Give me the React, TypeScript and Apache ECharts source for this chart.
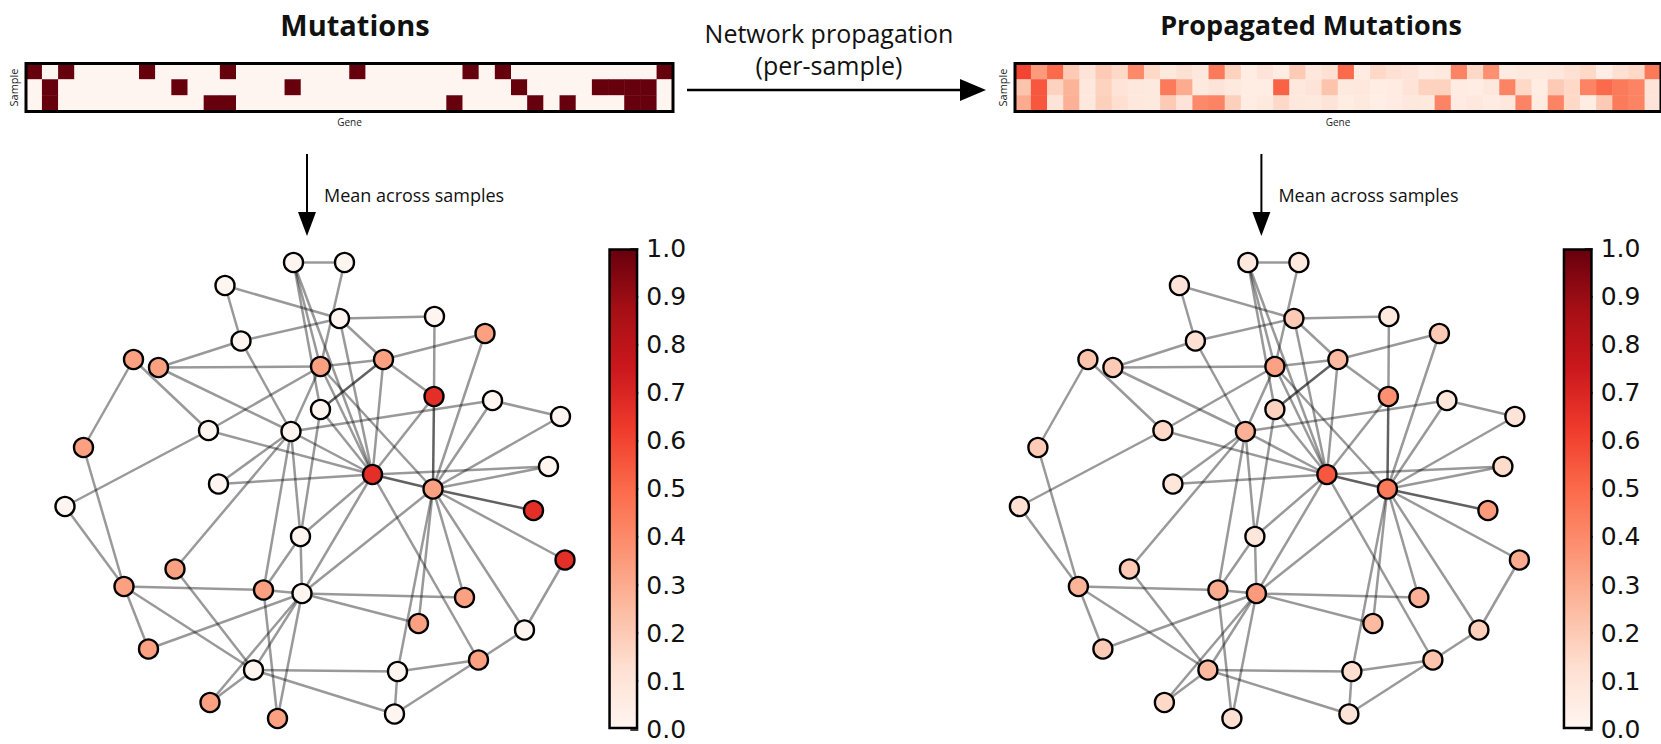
import React, { useEffect, useRef } from "react";
import * as echarts from "echarts";

// matplotlib "Reds" colormap stops
const REDS = ["#fff5f0", "#fee0d2", "#fcbba1", "#fc9272", "#fb6a4a", "#ef3b2c", "#cb181d", "#a50f15", "#67000d"];

const GENES = ["g1","g2","g3","g4","g5","g6","g7","g8","g9","g10","g11","g12","g13","g14","g15","g16","g17","g18","g19","g20","g21","g22","g23","g24","g25","g26","g27","g28","g29","g30","g31","g32","g33","g34","g35","g36","g37","g38","g39","g40"];
const SAMPLES = ["s1", "s2", "s3"];

// Binary mutation calls, one row per sample
const MUTATIONS_S1 = [1,0,1,0,0,0,0,1,0,0, 0,0,1,0,0,0,0,0,0,0, 1,0,0,0,0,0,0,1,0,1, 0,0,0,0,0,0,0,0,0,1];
const MUTATIONS_S2 = [0,1,0,0,0,0,0,0,0,1, 0,0,0,0,0,0,1,0,0,0, 0,0,0,0,0,0,0,0,0,0, 1,0,0,0,0,1,1,1,1,0];
const MUTATIONS_S3 = [0,1,0,0,0,0,0,0,0,0, 0,1,1,0,0,0,0,0,0,0, 0,0,0,0,0,0,1,0,0,0, 0,1,0,1,0,0,0,1,1,0];

// Scores after per-sample network propagation
const PROPAGATED_S1 = [0.6,0.35,0.5,0.2,0.1,0.2,0.15,0.4,0.15,0.07, 0.12,0.08,0.45,0.17,0.05,0.1,0.05,0.2,0.08,0.12, 0.5,0.06,0.15,0.12,0.1,0.06,0.07,0.42,0.15,0.38, 0.06,0.07,0.07,0.08,0.12,0.15,0.04,0.12,0.15,0.45];
const PROPAGATED_S2 = [0.22,0.55,0.17,0.27,0.08,0.17,0.1,0.08,0.07,0.45, 0.3,0.07,0.1,0.07,0.05,0.05,0.52,0.08,0.1,0.22, 0.07,0.08,0.05,0.06,0.1,0.17,0.17,0.06,0.05,0.08, 0.42,0.15,0.05,0.2,0.15,0.42,0.5,0.45,0.42,0.1];
const PROPAGATED_S3 = [0.3,0.55,0.1,0.28,0.08,0.18,0.13,0.08,0.07,0.2, 0.1,0.4,0.42,0.18,0.05,0.07,0.15,0.08,0.07,0.1, 0.05,0.07,0.04,0.06,0.08,0.07,0.42,0.06,0.08,0.06, 0.08,0.42,0.06,0.42,0.15,0.05,0.2,0.45,0.42,0.1];

// Network layout (x right, y down)
const NODE_IDS = ["A","B","C","D","E","F","G","H","I","J","K","L","M","N","O","P","Q","R","S","T","U","V","W","X","Y","Z","AA","AB","AC","AD","AE","AF","AG","AH","AI","AJ","AK","AL","AM","AN"];
const NODE_X = [50.7,60.9,37.0,59.9,78.9,89.0,40.2,18.7,23.7,56.1,68.7,78.8,90.5,56.1,104.1,33.7,50.2,8.7,101.7,66.5,78.6,35.7,5.0,98.7,52.1,105.0,27.0,16.8,44.7,52.4,84.9,75.7,96.9,21.7,87.7,42.7,71.5,34.0,47.5,70.9];
const NODE_Y = [4.5,4.5,9.1,15.7,15.3,18.7,20.2,23.9,25.5,25.3,23.9,31.3,32.1,33.9,35.3,38.1,38.3,41.5,45.3,46.9,49.8,48.8,53.3,54.1,59.3,64.0,65.8,69.3,70.0,70.7,71.5,76.7,78.0,81.8,84.0,86.0,86.3,92.5,95.7,94.8];

// Mean across samples, per node
const MUTATION_MEAN = [0,0,0,0,0,0.333,0,0.333,0.333,0.333,0.333,0.667,0,0,0,0,0,0.333,0,0.667,0.333,0,0,0.667,0,0.667,0.333,0.333,0.333,0,0.333,0.333,0,0.333,0.333,0,0,0.333,0.333,0];
const PROPAGATED_MEAN = [0.07,0.07,0.1,0.2,0.07,0.2,0.12,0.22,0.2,0.33,0.25,0.38,0.09,0.17,0.1,0.15,0.28,0.2,0.14,0.55,0.45,0.09,0.12,0.35,0.09,0.3,0.2,0.27,0.3,0.35,0.28,0.25,0.18,0.2,0.22,0.25,0.13,0.15,0.13,0.1];

const EDGES: [string, string][] = [
  ["A","B"],["A","J"],["A","N"],["A","T"],["B","J"],["C","D"],["C","G"],["D","G"],["D","E"],["D","K"],["D","T"],
  ["E","L"],["F","K"],["F","U"],["G","I"],["G","Q"],["H","R"],["H","P"],["I","J"],["I","Q"],["Q","T"],
  ["J","K"],["J","P"],["J","Q"],["J","T"],["J","U"],["K","N"],["K","L"],["K","T"],["L","T"],["L","U"],
  ["M","Q"],["M","O"],["M","U"],["O","U"],["N","T"],["N","Y"],["Y","AD"],["P","T"],["P","W"],["R","AB"],
  ["S","T"],["S","U"],["T","U"],["T","V"],["T","Y"],["T","AD"],["T","AI"],["U","X"],["U","Z"],["U","AG"],
  ["U","AE"],["U","AF"],["U","AK"],["U","AD"],["V","Q"],["AA","Q"],["AA","AJ"],["Q","AC"],["Q","Y"],
  ["W","AB"],["AB","AC"],["AB","AH"],["AB","AJ"],["AC","AD"],["AC","Y"],["AC","AM"],["AD","AE"],["AD","AF"],
  ["AD","AH"],["AD","AL"],["AD","AJ"],["AD","AM"],["AJ","AL"],["AJ","AK"],["AJ","AN"],["AK","AI"],["AK","AN"],
  ["AN","AI"],["AI","AG"],["AG","Z"],
];
const STRONG_EDGES: [string, string][] = [["K","N"],["L","U"],["T","U"],["U","X"]];

const COLORBAR_TICKS = [0, 0.1, 0.2, 0.3, 0.4, 0.5, 0.6, 0.7, 0.8, 0.9, 1.0];

function hexToRgb(h: string): number[] {
  const n = parseInt(h.slice(1), 16);
  return [(n >> 16) & 255, (n >> 8) & 255, n & 255];
}

function reds(v: number): string {
  const t = Math.max(0, Math.min(1, v)) * (REDS.length - 1);
  const i = Math.min(Math.floor(t), REDS.length - 2);
  const f = t - i;
  const a = hexToRgb(REDS[i]);
  const b = hexToRgb(REDS[i + 1]);
  const c = a.map((x, k) => Math.round(x + (b[k] - x) * f));
  return `rgb(${c[0]},${c[1]},${c[2]})`;
}

function matrixData(rows: number[][]) {
  const out: number[][] = [];
  rows.forEach((row, r) => row.forEach((v, c) => out.push([c, r, v])));
  return out;
}

const FONT = '"Open Sans", "DejaVu Sans", sans-serif';
const NET_W = 550;
const NET_H = 500;
const RIGHT_SHIFT = 954.4;

function heatmapAxes(gridIndex: number) {
  return {
    x: {
      type: "category", gridIndex, data: GENES,
      axisLine: { show: false }, axisTick: { show: false }, axisLabel: { show: false },
      name: "Gene", nameLocation: "middle", nameGap: 5,
      nameTextStyle: { fontSize: 10, color: "#222", fontFamily: FONT },
    },
    y: {
      type: "category", gridIndex, data: SAMPLES, inverse: true,
      axisLine: { show: false }, axisTick: { show: false }, axisLabel: { show: false },
      name: "Sample", nameLocation: "middle", nameGap: 7, nameRotate: 90,
      nameTextStyle: { fontSize: 11, color: "#222", fontFamily: FONT },
    },
  };
}

function netAxes(gridIndex: number) {
  return {
    x: { type: "value", gridIndex, min: 0, max: 110, show: false },
    y: { type: "value", gridIndex, min: 0, max: 100, inverse: true, show: false },
  };
}

function colorbarAxes(gridIndex: number) {
  return {
    x: { type: "category", gridIndex, data: ["cb"], show: false },
    y: {
      type: "value", gridIndex, min: 0, max: 1, interval: 0.1, position: "right",
      axisLine: { show: false }, splitLine: { show: false },
      axisTick: { show: true, inside: true, length: 8, lineStyle: { color: "#000", width: 1.5 } },
      axisLabel: {
        show: true, color: "#111", fontSize: 25, lineHeight: 20,
        fontFamily: '"DejaVu Sans", sans-serif', margin: 8,
        formatter: (v: number) => (COLORBAR_TICKS.some((t) => Math.abs(t - v) < 1e-6) ? v.toFixed(1) : ""),
      },
    },
  };
}

function graphSeries(axisIndex: number, values: number[]) {
  const strong = (s: string, t: string) =>
    STRONG_EDGES.some(([a, b]) => (a === s && b === t) || (a === t && b === s));
  return {
    type: "graph",
    coordinateSystem: "cartesian2d",
    xAxisIndex: axisIndex,
    yAxisIndex: axisIndex,
    symbol: "circle",
    symbolSize: 19,
    silent: true,
    label: { show: false },
    emphasis: { disabled: true },
    lineStyle: { color: "#000", opacity: 0.4, width: 2.5, curveness: 0 },
    data: NODE_IDS.map((id, i) => ({
      name: id,
      value: [NODE_X[i], NODE_Y[i]],
      itemStyle: { color: reds(values[i]), borderColor: "#000", borderWidth: 2.4 },
    })),
    links: EDGES.map(([s, t]) => ({
      source: NODE_IDS.indexOf(s),
      target: NODE_IDS.indexOf(t),
      lineStyle: strong(s, t) ? { opacity: 0.62 } : {},
    })),
  };
}

function colorbarSeries(axisIndex: number) {
  return {
    type: "bar",
    xAxisIndex: axisIndex,
    yAxisIndex: axisIndex,
    data: [1],
    barWidth: "100%",
    silent: true,
    itemStyle: {
      color: {
        type: "linear", x: 0, y: 1, x2: 0, y2: 0,
        colorStops: REDS.map((c, i) => ({ offset: i / (REDS.length - 1), color: c })),
      },
      borderColor: "#000",
      borderWidth: 2.5,
    },
  };
}

function arrowGraphics(x1: number, y1: number, x2: number, y2: number, head: number, half: number, width: number) {
  const dx = x2 - x1;
  const dy = y2 - y1;
  const len = Math.hypot(dx, dy);
  const ux = dx / len;
  const uy = dy / len;
  const bx = x2 - ux * head;
  const by = y2 - uy * head;
  return [
    { type: "line", shape: { x1, y1, x2: bx + ux * 2, y2: by + uy * 2 }, style: { stroke: "#000", lineWidth: width } },
    {
      type: "polygon",
      shape: { points: [[x2, y2], [bx - uy * half, by + ux * half], [bx + uy * half, by - ux * half]] },
      style: { fill: "#000" },
    },
  ];
}

function text(x: number, y: number, s: string, size: number, bold = false, align = "center") {
  return {
    type: "text",
    x,
    y,
    style: {
      text: s,
      fontSize: size,
      fontWeight: bold ? "bold" : "normal",
      fontFamily: FONT,
      fill: "#111",
      textAlign: align,
      textVerticalAlign: "middle",
    },
  };
}

export default function App() {
  const ref = useRef<HTMLDivElement>(null);

  useEffect(() => {
    if (!ref.current) return;
    const chart = echarts.init(ref.current, null, { renderer: "svg" });

    const hmL = heatmapAxes(0);
    const hmR = heatmapAxes(1);
    const netL = netAxes(2);
    const netR = netAxes(3);
    const cbL = colorbarAxes(4);
    const cbR = colorbarAxes(5);

    const option: any = {
      animation: false,
      backgroundColor: "#fff",
      grid: [
        { left: 26, top: 63.5, width: 647, height: 48, show: true, borderColor: "#000", borderWidth: 3, backgroundColor: "transparent", z: 10 },
        { left: 1015, top: 63.5, width: 646, height: 48, show: true, borderColor: "#000", borderWidth: 3, backgroundColor: "transparent", z: 10 },
        { left: 40, top: 240, width: NET_W, height: NET_H },
        { left: 40 + RIGHT_SHIFT, top: 240, width: NET_W, height: NET_H },
        { left: 608.3, top: 248.3, width: 30, height: 481 },
        { left: 608.3 + RIGHT_SHIFT, top: 248.3, width: 30, height: 481 },
      ],
      xAxis: [hmL.x, hmR.x, netL.x, netR.x, cbL.x, cbR.x],
      yAxis: [hmL.y, hmR.y, netL.y, netR.y, cbL.y, cbR.y],
      visualMap: [
        { type: "continuous", min: 0, max: 1, show: false, seriesIndex: [0, 1], inRange: { color: REDS } },
      ],
      series: [
        { type: "heatmap", xAxisIndex: 0, yAxisIndex: 0, data: matrixData([MUTATIONS_S1, MUTATIONS_S2, MUTATIONS_S3]), silent: true },
        { type: "heatmap", xAxisIndex: 1, yAxisIndex: 1, data: matrixData([PROPAGATED_S1, PROPAGATED_S2, PROPAGATED_S3]), silent: true },
        graphSeries(2, MUTATION_MEAN),
        graphSeries(3, PROPAGATED_MEAN),
        colorbarSeries(4),
        colorbarSeries(5),
      ],
      graphic: [
        text(355, 24, "Mutations", 29, true),
        text(1311, 24, "Propagated Mutations", 27, true),
        text(829, 33, "Network propagation", 25),
        text(829, 65, "(per-sample)", 25),
        ...arrowGraphics(687, 90, 986, 90, 26, 11, 2.6),
        ...arrowGraphics(307, 154, 307, 236, 24, 9, 2),
        text(324, 195, "Mean across samples", 18, false, "left"),
        ...arrowGraphics(307 + RIGHT_SHIFT, 154, 307 + RIGHT_SHIFT, 236, 24, 9, 2),
        text(324 + RIGHT_SHIFT, 195, "Mean across samples", 18, false, "left"),
      ],
    };

    chart.setOption(option);
    return () => chart.dispose();
  }, []);

  return (
    <div
      ref={ref}
      style={{ position: "fixed", left: 0, top: 0, width: 1661, height: 744, background: "#fff" }}
    />
  );
}
